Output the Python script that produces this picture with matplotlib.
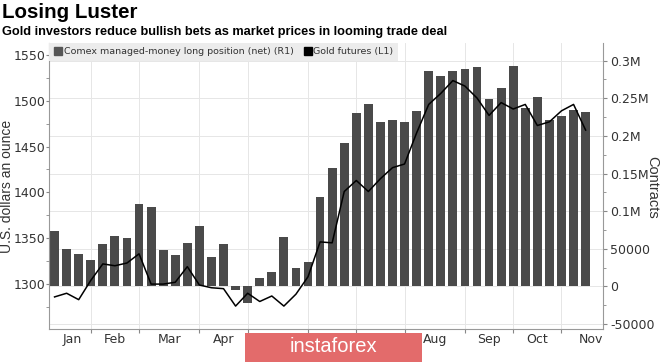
import matplotlib
matplotlib.use('Agg')
import matplotlib.pyplot as plt
from matplotlib.lines import Line2D
from matplotlib.patches import Rectangle

# weekly data, Jan - early Nov
positions = [73300, 50000, 43400, 34600, 55700, 66700, 64500, 109200, 104900, 47800,
             41700, 57900, 79900, 39100, 55700, -4400, -22400, 10500, 19700, 65800,
             24100, 32900, 118400, 157500, 190400, 230300, 241700, 218000, 220700, 218400,
             232500, 286000, 279400, 286000, 289000, 291700, 248700, 264100, 293500, 236500,
             251000, 221100, 226800, 234200, 231200]
gold = [1286, 1290, 1283, 1304, 1322, 1320, 1323, 1333, 1300, 1300,
        1302, 1319, 1299, 1296, 1295, 1276, 1290, 1281, 1287, 1276,
        1289, 1308, 1346, 1345, 1401, 1413, 1401, 1415, 1427, 1431,
        1465, 1496, 1508, 1522, 1516, 1503, 1484, 1498, 1491, 1496,
        1473, 1477, 1489, 1496, 1468]
month_ticks = [3, 7, 12, 16, 21, 25, 29, 34, 38, 42]
# May-Jul sit under the watermark strip, so only the visible months are labelled
month_pos = [1.5, 5, 9.5, 14, 31.5, 36, 40, 44.4]
months = ['Jan', 'Feb', 'Mar', 'Apr', 'Aug', 'Sep', 'Oct', 'Nov']
right_ticks = [-50000, 0, 50000, 100000, 150000, 200000, 250000, 300000]
right_labels = ['-50000', '0', '50000', '0.1M', '0.15M', '0.2M', '0.25M', '0.3M']

weeks = list(range(len(positions)))
txt = '#333333'
head = 'Liberation Sans'

fig = plt.figure(figsize=(6.65, 3.63), dpi=100, facecolor='white')
ax = fig.add_axes([49 / 665, 34 / 363, 554 / 665, 286 / 363])

# bars on the right axis
ax.bar(weeks, positions, width=0.73, color='#4a4a4a', zorder=2)
ax.set_xlim(-0.46, 45.44)
ax.set_ylim(-56600, 323400)

# gold price on the left axis
ax2 = ax.twinx()
ax2.plot(weeks, gold, color='black', linewidth=1.1, zorder=3)
ax2.set_ylim(1251, 1563)

# twinx moves the ticks around, so set sides afterwards
ax.yaxis.tick_right()
ax.yaxis.set_label_position('right')
ax2.yaxis.tick_left()
ax2.yaxis.set_label_position('left')

ax.set_yticks(right_ticks)
ax.set_yticklabels(right_labels)
ax.set_yticks([-25000, 25000, 75000, 125000, 175000, 225000, 275000], minor=True)
ax.set_xticks(month_ticks)
ax.set_xticklabels([])
ax.set_xticks(month_pos, minor=True)
ax.set_xticklabels(months, minor=True)
ax.tick_params(axis='x', which='major', length=3, color='#888888')
ax.tick_params(axis='x', which='minor', length=0, labelsize=9, colors=txt, pad=3)
ax.tick_params(axis='y', which='both', length=3, color='#888888', labelsize=9,
               labelcolor=txt, pad=2)
ax.tick_params(axis='y', which='minor', length=2)
ax.grid(True, which='major', color='#e6e6e6', linewidth=0.7)
ax.set_axisbelow(True)
ax.spines['top'].set_visible(False)
for side in ['left', 'right', 'bottom']:
    ax.spines[side].set_color('#999999')
    ax.spines[side].set_linewidth(0.8)

ax2.set_yticks([1300, 1350, 1400, 1450, 1500, 1550])
ax2.set_yticks([1275, 1325, 1375, 1425, 1475, 1525], minor=True)
ax2.tick_params(axis='y', which='both', length=2, color='#888888', labelsize=9,
                labelcolor=txt, pad=0.5)
for side in ax2.spines:
    ax2.spines[side].set_visible(False)

fig.text(7 / 665, 1 - 186 / 363, 'U.S. dollars an ounce', rotation=90, fontsize=10,
         family=head, color=txt, ha='center', va='center')
fig.text(652 / 665, 1 - 187 / 363, 'Contracts', rotation=270, fontsize=10.5,
         family=head, color=txt, ha='center', va='center')

handles = [Line2D([], [], marker='s', linestyle='none', color='#555555', markersize=5.5),
           Line2D([], [], marker='s', linestyle='none', color='black', markersize=5.5)]
leg = ax2.legend(handles, ['Comex managed-money long position (net) (R1)', 'Gold futures (L1)'],
                 loc='upper left', bbox_to_anchor=(0, 1), borderaxespad=0, ncol=2,
                 fontsize=6.8, frameon=True, fancybox=False, facecolor='#ececec',
                 edgecolor='none', framealpha=1, handletextpad=0.1, columnspacing=1.0,
                 handlelength=1.0, borderpad=0.45, labelcolor=txt)

fig.text(0.003, 1 - 18.5 / 363, 'Losing Luster', fontsize=14.8, fontweight='bold',
         family=head, va='baseline', color='black')
fig.text(0.003, 1 - 35 / 363, 'Gold investors reduce bullish bets as market prices in looming trade deal',
         fontsize=9.2, fontweight='bold', family=head, va='baseline', color='black')

# watermark strip
fig.patches.append(Rectangle((245 / 665, 1 - 362 / 363), 177 / 665, 29 / 363,
                             transform=fig.transFigure, facecolor='#e36b6b',
                             edgecolor='none', zorder=5))
fig.text(333 / 665, 1 - 347 / 363, 'instaforex', fontsize=14.5, family=head,
         color='white', ha='center', va='center', zorder=6)

fig.savefig('out.png', dpi=100, facecolor='white')
